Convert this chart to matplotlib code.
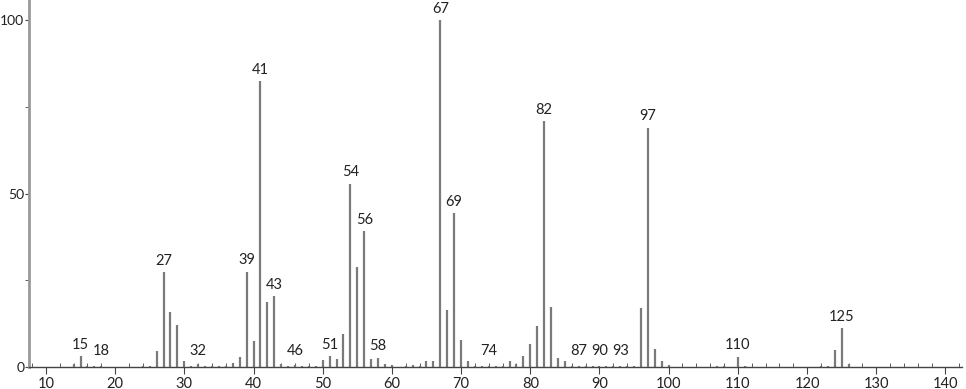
import matplotlib
matplotlib.use('Agg')
import matplotlib.pyplot as plt
from matplotlib.ticker import MultipleLocator

# m/z values and relative intensities
mz = [14, 15, 16, 17, 18, 24, 25, 26, 27, 28, 29, 30, 31, 32, 33, 34, 35, 36,
      37, 38, 39, 40, 41, 42, 43, 44, 45, 46, 47, 48, 49, 50, 51, 52, 53, 54,
      55, 56, 57, 58, 59, 60, 62, 63, 64, 65, 66, 67, 68, 69, 70, 71, 72, 73,
      74, 75, 76, 77, 78, 79, 80, 81, 82, 83, 84, 85, 86, 87, 88, 89, 90, 91,
      92, 93, 94, 95, 96, 97, 98, 99, 100, 107, 108, 110, 111, 122, 123, 124,
      125, 126]
intensity = [0.8, 3.2, 0.3, 0.3, 0.3, 0.3, 0.3, 4.6, 27.3, 15.9, 12.2, 1.7,
             0.3, 0.8, 0.3, 0.3, 0.2, 0.3, 1.2, 2.9, 27.5, 7.5, 82.5, 18.8,
             20.5, 1.0, 0.4, 0.5, 0.4, 0.3, 0.4, 2.0, 3.2, 2.3, 9.4, 52.9,
             28.9, 39.3, 2.2, 2.7, 1.0, 0.5, 0.4, 0.5, 0.4, 1.6, 1.8, 100.0,
             16.4, 44.3, 7.7, 1.8, 0.3, 0.3, 0.3, 0.3, 0.4, 1.6, 0.8, 3.2,
             6.7, 11.9, 70.9, 17.4, 2.7, 1.6, 0.3, 0.3, 0.3, 0.3, 0.3, 0.3,
             0.3, 0.3, 0.3, 0.3, 17.1, 69.0, 5.2, 1.7, 0.5, 0.3, 0.3, 3.0,
             0.3, 0.4, 0.3, 4.9, 11.1, 0.9]

# peaks that carry a label
labelled = [15, 18, 27, 32, 39, 41, 43, 46, 51, 54, 56, 58, 67, 69, 74, 82,
            87, 90, 93, 97, 110, 125]

x_ticks = [10, 20, 30, 40, 50, 60, 70, 80, 90, 100, 110, 120, 130, 140]
y_ticks = [0, 50, 100]

fig = plt.figure(figsize=(9.66, 3.89), dpi=100)
ax = fig.add_axes([29 / 966, 22 / 389, 933 / 966, 367 / 389])

ax.vlines(mz, 0, intensity, color='#7a7a7a', linewidth=1.6)

lookup = dict(zip(mz, intensity))
for m in labelled:
    h = max(lookup[m], 1.5)
    ax.text(m, h + 1.2, str(m), ha='center', va='bottom', fontsize=10.5,
            color='#222222', family='Lato')

ax.set_xlim(7.55, 142.4)
ax.set_ylim(0, 105.8)
ax.set_xticks(x_ticks)
ax.xaxis.set_minor_locator(MultipleLocator(2))
ax.set_yticks(y_ticks)
ax.yaxis.set_minor_locator(MultipleLocator(25))

for s in ['top', 'right']:
    ax.spines[s].set_visible(False)
ax.spines['left'].set_color('#999999')
ax.spines['left'].set_linewidth(2)
ax.spines['bottom'].set_color('#444444')
ax.spines['bottom'].set_linewidth(1)

ax.tick_params(axis='x', which='major', direction='out', length=5,
               color='#444444', labelsize=10.5, labelcolor='#222222', pad=2)
ax.tick_params(axis='x', which='minor', direction='in', length=3,
               color='#444444')
ax.tick_params(axis='y', which='major', direction='out', length=3,
               color='#444444', labelsize=10, labelcolor='#222222', pad=0.5)
ax.tick_params(axis='y', which='minor', direction='out', length=3,
               color='#444444')
for lab in ax.get_xticklabels() + ax.get_yticklabels():
    lab.set_family('Lato')

fig.savefig('out.png', dpi=100)
